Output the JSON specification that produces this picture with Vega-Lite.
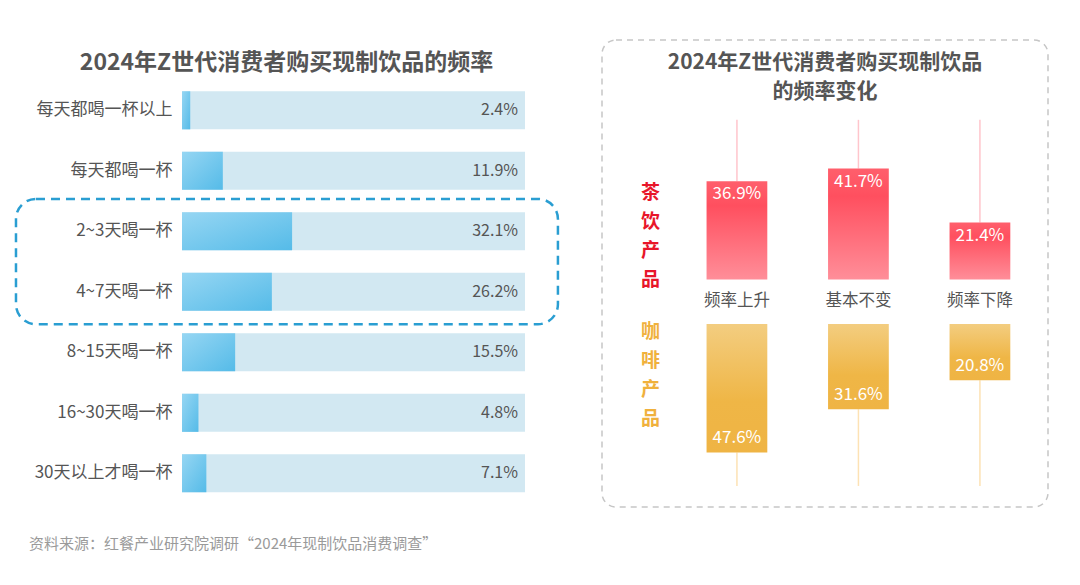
{
  "$schema": "https://vega.github.io/schema/vega-lite/v6.json",
  "background": "white",
  "padding": {"left": 14, "top": 39, "right": 0, "bottom": 0},
  "autosize": {"type": "pad"},
  "bounds": "flush",
  "spacing": 77,
  "config": {"font": "Noto Sans CJK SC", "view": {"stroke": null}},
  "title": {
    "text": "资料来源：红餐产业研究院调研“2024年现制饮品消费调查”",
    "orient": "bottom", "anchor": "start", "frame": "group",
    "fontSize": 15, "fontWeight": "normal", "color": "#9a9a9a",
    "offset": 29, "dx": -153
  },
  "hconcat": [
    {
      "width": 343,
      "height": 467,
      "title": {
        "text": "2024年Z世代消费者购买现制饮品的频率",
        "fontSize": 23, "fontWeight": "bold", "color": "#555555",
        "anchor": "middle", "offset": -35, "dx": -67
      },
      "layer": [
        {
          "data": {"values": [
            {"freq": "每天都喝一杯以上", "value": 2.4},
            {"freq": "每天都喝一杯", "value": 11.9},
            {"freq": "2~3天喝一杯", "value": 32.1},
            {"freq": "4~7天喝一杯", "value": 26.2},
            {"freq": "8~15天喝一杯", "value": 15.5},
            {"freq": "16~30天喝一杯", "value": 4.8},
            {"freq": "30天以上才喝一杯", "value": 7.1}
          ]},
          "transform": [{"calculate": "format(datum.value, '.1f') + '%'", "as": "label"}],
          "encoding": {
            "y": {
              "field": "freq", "type": "nominal", "sort": null,
              "scale": {
                "domain": ["每天都喝一杯以上", "每天都喝一杯", "2~3天喝一杯", "4~7天喝一杯", "8~15天喝一杯", "16~30天喝一杯", "30天以上才喝一杯"],
                "paddingInner": 0.37, "paddingOuter": 0.5445, "align": 0.778
              },
              "axis": {"title": null, "domain": false, "ticks": false, "labelFontSize": 17, "labelColor": "#555555", "labelPadding": 10}
            }
          },
          "layer": [
            {
              "mark": {"type": "bar", "color": "#d2e8f2"},
              "encoding": {
                "x": {"datum": 0, "type": "quantitative", "scale": {"domain": [0, 100], "nice": false}, "axis": null},
                "x2": {"datum": 100}
              }
            },
            {
              "mark": {"type": "bar", "color": {"gradient": "linear", "x1": 0, "y1": 0, "x2": 1, "y2": 1, "stops": [{"offset": 0, "color": "#96d6f3"}, {"offset": 1, "color": "#55bbe8"}]}},
              "encoding": {
                "x": {"field": "value", "type": "quantitative"}
              }
            },
            {
              "mark": {"type": "text", "align": "right", "baseline": "middle", "dx": -7, "fontSize": 16, "color": "#555555"},
              "encoding": {
                "x": {"datum": 100, "type": "quantitative"},
                "text": {"field": "label"}
              }
            }
          ]
        },
        {
          "data": {"values": [{"first": "2~3天喝一杯", "last": "4~7天喝一杯"}]},
          "mark": {"type": "rect", "filled": false, "stroke": "#2a9ed2", "strokeWidth": 2.5, "strokeDash": [9, 6], "cornerRadius": 20},
          "encoding": {
            "x": {"datum": -48.4, "type": "quantitative"},
            "x2": {"datum": 109.6},
            "y": {"field": "first", "type": "nominal", "sort": null, "bandPosition": -0.35},
            "y2": {"field": "last", "bandPosition": 1.35}
          }
        }
      ]
    },
    {
      "width": 446,
      "height": 467,
      "view": {"stroke": "#c6c6c6", "strokeWidth": 1.5, "strokeDash": [6, 5], "cornerRadius": 14},
      "title": {
        "text": "2024年Z世代消费者购买现制饮品",
        "subtitle": "的频率变化",
        "fontSize": 21, "fontWeight": "bold", "color": "#555555",
        "subtitleFontSize": 21, "subtitleFontWeight": "bold", "subtitleColor": "#555555", "subtitlePadding": 8,
        "anchor": "middle", "offset": -62
      },
      "layer": [
        {
          "data": {"values": [
            {"change": "频率上升", "value": 36.9},
            {"change": "基本不变", "value": 41.7},
            {"change": "频率下降", "value": 21.4}
          ]},
          "transform": [{"calculate": "format(datum.value, '.1f') + '%'", "as": "label"}],
          "encoding": {
            "x": {"field": "change", "type": "nominal", "sort": null, "scale": {"paddingInner": 0.5, "paddingOuter": 0.5854, "align": 0.735}, "axis": null},
            "y": {
              "field": "value", "type": "quantitative",
              "scale": {"domain": [-85.5, 90], "nice": false},
              "axis": {"orient": "left", "title": ["茶", "饮", "产", "品"], "titleAngle": 0, "titleX": 48, "titleY": 143, "titleAlign": "center", "titleBaseline": "top", "titleFontSize": 19, "titleFontWeight": "bold", "titleColor": "#e8162a", "titleLineHeight": 29, "labels": false, "ticks": false, "domain": false, "grid": false}
            }
          },
          "layer": [
            {
              "mark": {"type": "rule", "color": "#ffc5cc", "strokeWidth": 1.5},
              "encoding": {"y2": {"datum": 60}}
            },
            {
              "mark": {"type": "bar", "color": {"gradient": "linear", "x1": 0, "y1": 0, "x2": 0, "y2": 1, "stops": [{"offset": 0, "color": "#ff5f6c"}, {"offset": 0.25, "color": "#ff4f5f"}, {"offset": 1, "color": "#ff8e99"}]}}
            },
            {
              "mark": {"type": "text", "baseline": "middle", "dy": 13, "fontSize": 17, "color": "white"},
              "encoding": {"text": {"field": "label"}}
            },
            {
              "mark": {"type": "text", "baseline": "middle", "fontSize": 16.5, "color": "#555555"},
              "encoding": {"y": {"datum": -8, "type": "quantitative"}, "text": {"field": "change"}}
            }
          ]
        },
        {
          "data": {"values": [
            {"change": "频率上升", "value": 47.6},
            {"change": "基本不变", "value": 31.6},
            {"change": "频率下降", "value": 20.8}
          ]},
          "transform": [{"calculate": "format(datum.value, '.1f') + '%'", "as": "label"}],
          "encoding": {
            "x": {"field": "change", "type": "nominal", "sort": null, "axis": null},
            "y": {
              "field": "value", "type": "quantitative",
              "scale": {"domain": [-105.2, 67.8], "nice": false, "reverse": true},
              "axis": {"orient": "left", "title": ["咖", "啡", "产", "品"], "titleAngle": 0, "titleX": 48, "titleY": 282, "titleAlign": "center", "titleBaseline": "top", "titleFontSize": 19, "titleFontWeight": "bold", "titleColor": "#f0b13d", "titleLineHeight": 29, "labels": false, "ticks": false, "domain": false, "grid": false}
            }
          },
          "layer": [
            {
              "mark": {"type": "rule", "color": "#fde2b4", "strokeWidth": 1.5},
              "encoding": {"y2": {"datum": 60}}
            },
            {
              "mark": {"type": "bar", "color": {"gradient": "linear", "x1": 0, "y1": 0, "x2": 0, "y2": 1, "stops": [{"offset": 0, "color": "#f3cd80"}, {"offset": 0.6, "color": "#efb646"}, {"offset": 1, "color": "#efb444"}]}}
            },
            {
              "mark": {"type": "text", "baseline": "middle", "dy": -14, "fontSize": 17, "color": "white"},
              "encoding": {"text": {"field": "label"}}
            }
          ]
        }
      ],
      "resolve": {"scale": {"y": "independent"}, "axis": {"y": "independent"}}
    }
  ]
}
